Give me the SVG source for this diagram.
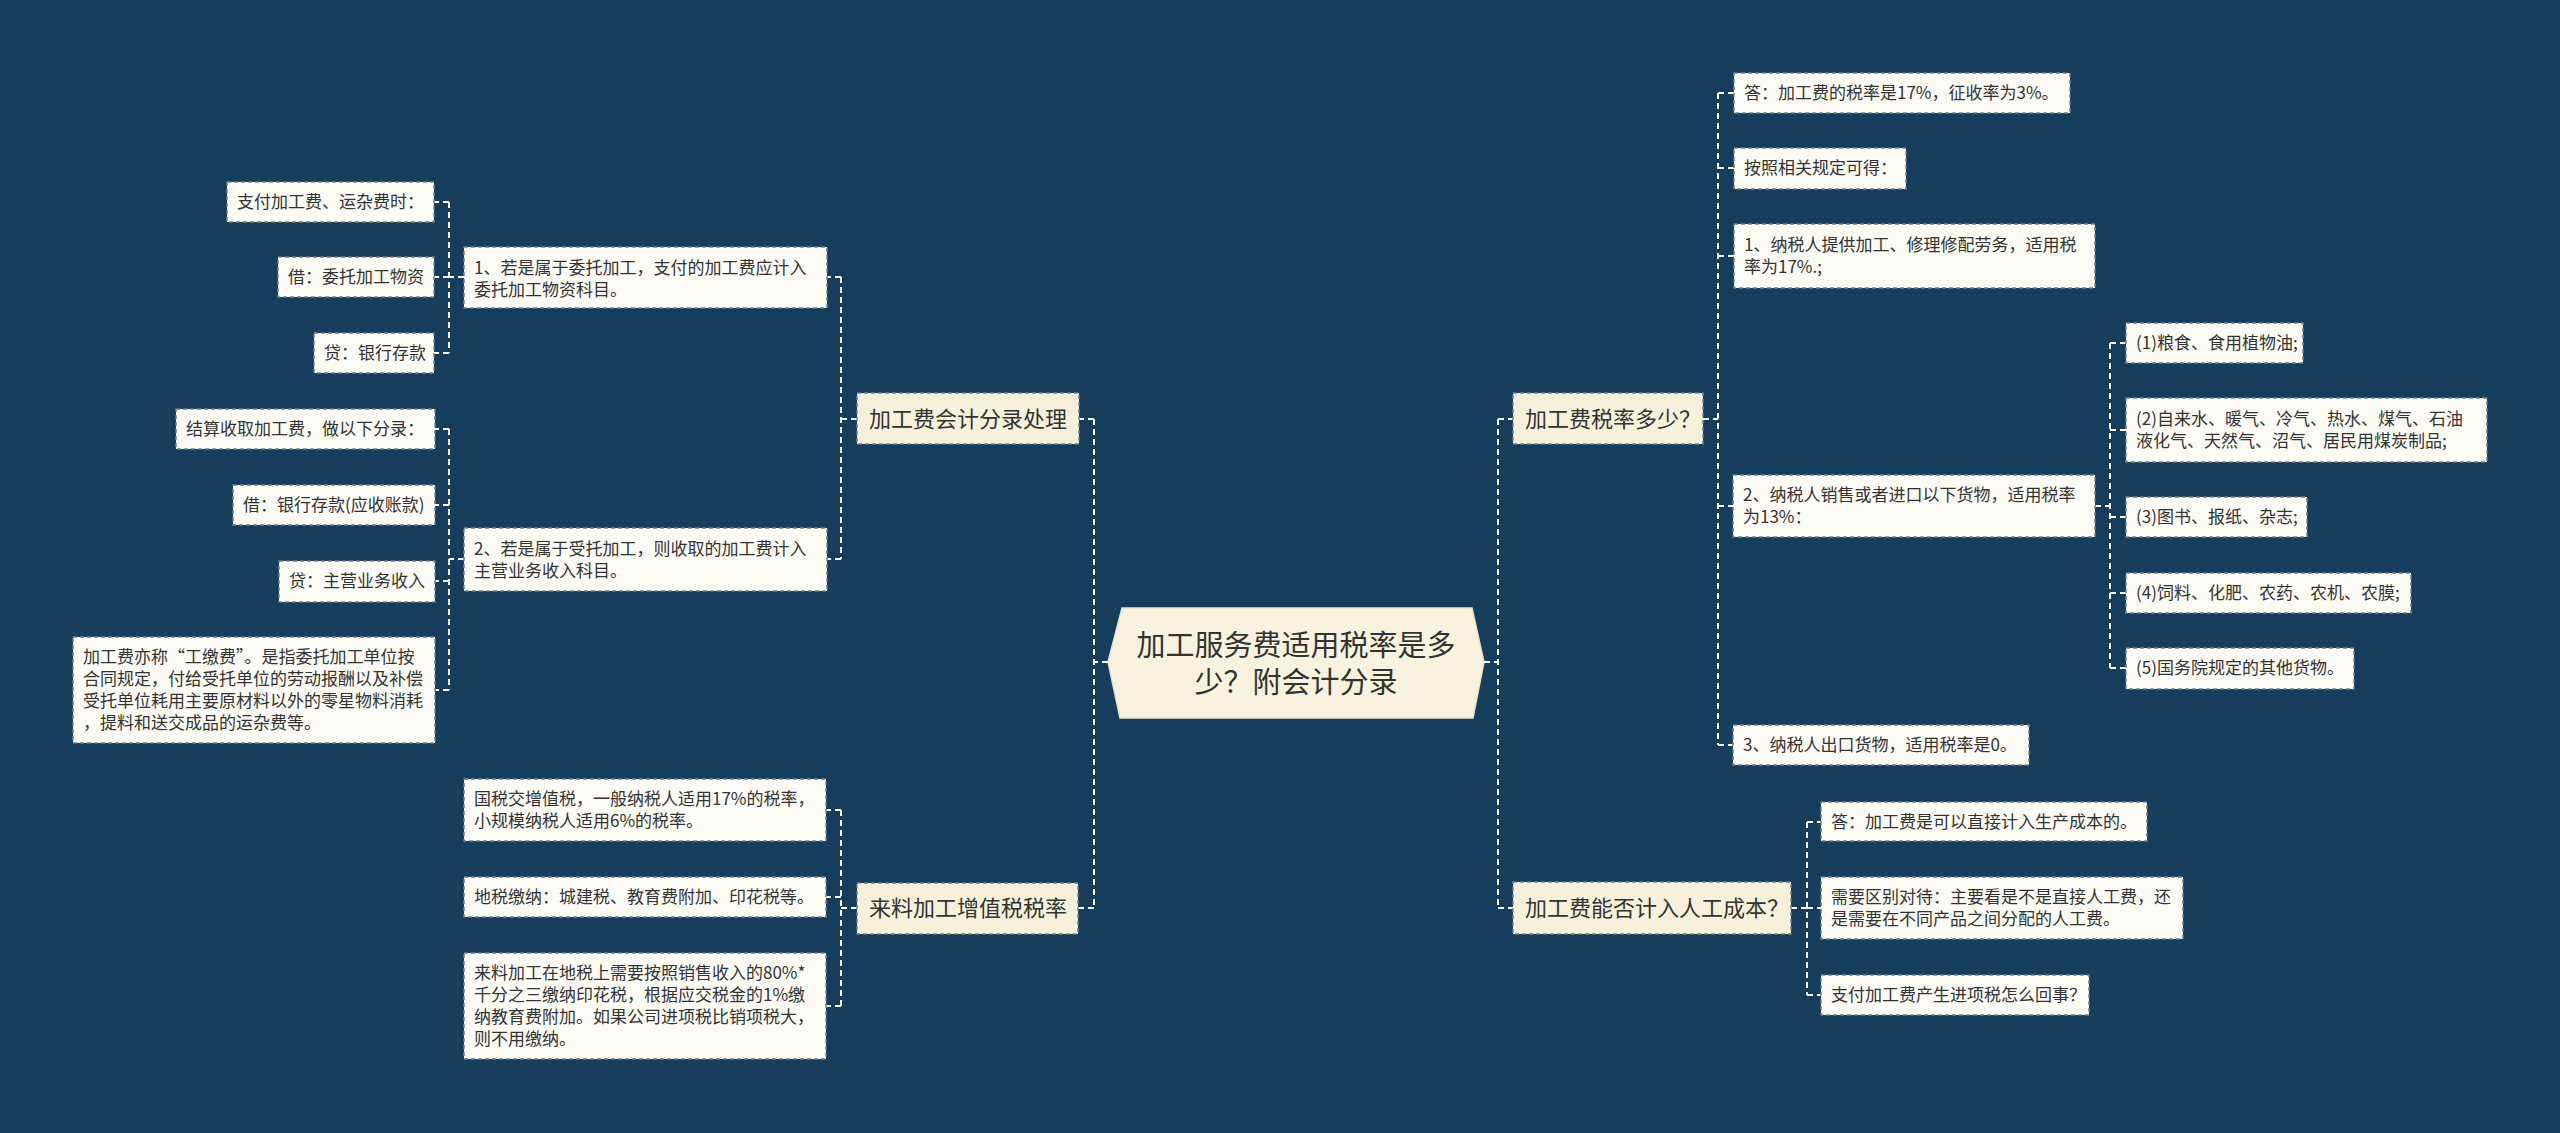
<svg xmlns="http://www.w3.org/2000/svg" width="2560" height="1133" viewBox="0 0 2560 1133">
<style>
.bg{fill:#173d5c}
.leaf{fill:#fdfcf4;stroke:#6f7f8f;stroke-width:1.5;stroke-dasharray:4 3}
.l1{fill:#f7f1dc;stroke:#6f7f8f;stroke-width:1.5;stroke-dasharray:4 3}
.root{fill:#f8f2de;stroke:#e9e3cc;stroke-width:1.5}
text{font-family:"Noto Sans CJK SC","Noto Sans",sans-serif;fill:#333333}
.t{font-size:17px}
.t1{font-size:22px}
.t0{font-size:29px;text-anchor:middle}
.c{fill:none;stroke:#ffffff;stroke-width:2;stroke-dasharray:6 4}
</style>
<rect class="bg" x="0" y="0" width="2560" height="1133"/>
<g id="connectors">
<path class="c" d="M1108 662H1094M1094 419V908M1094 419H1079M1094 908H1078"/>
<path class="c" d="M1484 662H1498M1498 419V908M1498 419H1513M1498 908H1513"/>
<path class="c" d="M857 419H841M841 277V559M841 277H827M841 559H827"/>
<path class="c" d="M464 277H449M449 202V353M449 202H434M449 277H434M449 353H434"/>
<path class="c" d="M464 559H449M449 429V690M449 429H435M449 505H435M449 581H435M449 690H435"/>
<path class="c" d="M857 908H841M841 810V1006M841 810H826M841 897H826M841 1006H826"/>
<path class="c" d="M1703 419H1718M1718 93V745M1718 93H1734M1718 168H1734M1718 256H1734M1718 506H1733M1718 745H1733"/>
<path class="c" d="M2095 506H2110M2110 343V668M2110 343H2126M2110 430H2126M2110 517H2126M2110 593H2126M2110 668H2126"/>
<path class="c" d="M1791 908H1807M1807 822V995M1807 822H1821M1807 908H1821M1807 995H1821"/>
</g>
<g id="root">
<polygon class="root" points="1108,662 1122,608 1472,608 1484,662 1473,718 1120,718"/>
<text class="t0" x="1296" y="656">加工服务费适用税率是多</text>
<text class="t0" x="1296" y="693">少？附会计分录</text>
</g>
<g id="n-kuaiji">
<rect class="l1" x="857" y="393" width="222" height="51"/>
<text class="t1" x="869" y="427">加工费会计分录处理</text>
</g>
<g id="n-liaojia">
<rect class="l1" x="857" y="883" width="221" height="51"/>
<text class="t1" x="869" y="916">来料加工增值税税率</text>
</g>
<g id="n-shuilv">
<rect class="l1" x="1513" y="393" width="190" height="51"/>
<text class="t1" x="1525" y="427">加工费税率多少？</text>
</g>
<g id="n-rengong">
<rect class="l1" x="1513" y="882" width="278" height="52"/>
<text class="t1" x="1525" y="916">加工费能否计入人工成本？</text>
</g>
<g id="n-p1">
<rect class="leaf" x="464" y="247" width="363" height="61"/>
<text class="t" x="474" y="274">1、若是属于委托加工，支付的加工费应计入</text>
<text class="t" x="474" y="296">委托加工物资科目。</text>
</g>
<g id="n-a1">
<rect class="leaf" x="227" y="182" width="207" height="40"/>
<text class="t" x="237" y="208">支付加工费、运杂费时：</text>
</g>
<g id="n-a2">
<rect class="leaf" x="278" y="257" width="156" height="40"/>
<text class="t" x="288" y="283">借：委托加工物资</text>
</g>
<g id="n-a3">
<rect class="leaf" x="314" y="333" width="120" height="40"/>
<text class="t" x="324" y="359">贷：银行存款</text>
</g>
<g id="n-p2">
<rect class="leaf" x="464" y="528" width="363" height="63"/>
<text class="t" x="474" y="555">2、若是属于受托加工，则收取的加工费计入</text>
<text class="t" x="474" y="577">主营业务收入科目。</text>
</g>
<g id="n-b1">
<rect class="leaf" x="176" y="409" width="259" height="40"/>
<text class="t" x="186" y="435">结算收取加工费，做以下分录：</text>
</g>
<g id="n-b2">
<rect class="leaf" x="233" y="485" width="202" height="40"/>
<text class="t" x="243" y="511">借：银行存款(应收账款)</text>
</g>
<g id="n-b3">
<rect class="leaf" x="279" y="561" width="156" height="41"/>
<text class="t" x="289" y="587">贷：主营业务收入</text>
</g>
<g id="n-b4">
<rect class="leaf" x="73" y="637" width="362" height="106"/>
<text class="t" x="83" y="663">加工费亦称“工缴费”。是指委托加工单位按</text>
<text class="t" x="83" y="685">合同规定，付给受托单位的劳动报酬以及补偿</text>
<text class="t" x="83" y="707">受托单位耗用主要原材料以外的零星物料消耗</text>
<text class="t" x="83" y="729">，提料和送交成品的运杂费等。</text>
</g>
<g id="n-c1">
<rect class="leaf" x="464" y="779" width="362" height="62"/>
<text class="t" x="474" y="805">国税交增值税，一般纳税人适用17%的税率，</text>
<text class="t" x="474" y="827">小规模纳税人适用6%的税率。</text>
</g>
<g id="n-c2">
<rect class="leaf" x="464" y="877" width="362" height="40"/>
<text class="t" x="474" y="903">地税缴纳：城建税、教育费附加、印花税等。</text>
</g>
<g id="n-c3">
<rect class="leaf" x="464" y="953" width="362" height="106"/>
<text class="t" x="474" y="979">来料加工在地税上需要按照销售收入的80%*</text>
<text class="t" x="474" y="1001">千分之三缴纳印花税，根据应交税金的1%缴</text>
<text class="t" x="474" y="1023">纳教育费附加。如果公司进项税比销项税大，</text>
<text class="t" x="474" y="1045">则不用缴纳。</text>
</g>
<g id="n-d1">
<rect class="leaf" x="1734" y="73" width="336" height="40"/>
<text class="t" x="1744" y="99">答：加工费的税率是17%，征收率为3%。</text>
</g>
<g id="n-d2">
<rect class="leaf" x="1734" y="148" width="172" height="41"/>
<text class="t" x="1744" y="174">按照相关规定可得：</text>
</g>
<g id="n-d3">
<rect class="leaf" x="1734" y="224" width="361" height="64"/>
<text class="t" x="1744" y="251">1、纳税人提供加工、修理修配劳务，适用税</text>
<text class="t" x="1744" y="273">率为17%.;</text>
</g>
<g id="n-d4">
<rect class="leaf" x="1733" y="475" width="362" height="62"/>
<text class="t" x="1743" y="501">2、纳税人销售或者进口以下货物，适用税率</text>
<text class="t" x="1743" y="523">为13%：</text>
</g>
<g id="n-d5">
<rect class="leaf" x="1733" y="725" width="296" height="40"/>
<text class="t" x="1743" y="751">3、纳税人出口货物，适用税率是0。</text>
</g>
<g id="n-e1">
<rect class="leaf" x="2126" y="323" width="177" height="40"/>
<text class="t" x="2136" y="349">(1)粮食、食用植物油;</text>
</g>
<g id="n-e2">
<rect class="leaf" x="2126" y="398" width="361" height="64"/>
<text class="t" x="2136" y="425">(2)自来水、暖气、冷气、热水、煤气、石油</text>
<text class="t" x="2136" y="447">液化气、天然气、沼气、居民用煤炭制品;</text>
</g>
<g id="n-e3">
<rect class="leaf" x="2126" y="497" width="181" height="40"/>
<text class="t" x="2136" y="523">(3)图书、报纸、杂志;</text>
</g>
<g id="n-e4">
<rect class="leaf" x="2126" y="573" width="285" height="40"/>
<text class="t" x="2136" y="599">(4)饲料、化肥、农药、农机、农膜;</text>
</g>
<g id="n-e5">
<rect class="leaf" x="2126" y="648" width="228" height="41"/>
<text class="t" x="2136" y="674">(5)国务院规定的其他货物。</text>
</g>
<g id="n-f1">
<rect class="leaf" x="1821" y="802" width="326" height="39"/>
<text class="t" x="1831" y="828">答：加工费是可以直接计入生产成本的。</text>
</g>
<g id="n-f2">
<rect class="leaf" x="1821" y="877" width="362" height="62"/>
<text class="t" x="1831" y="903">需要区别对待：主要看是不是直接人工费，还</text>
<text class="t" x="1831" y="925">是需要在不同产品之间分配的人工费。</text>
</g>
<g id="n-f3">
<rect class="leaf" x="1821" y="975" width="268" height="40"/>
<text class="t" x="1831" y="1001">支付加工费产生进项税怎么回事？</text>
</g>
</svg>
